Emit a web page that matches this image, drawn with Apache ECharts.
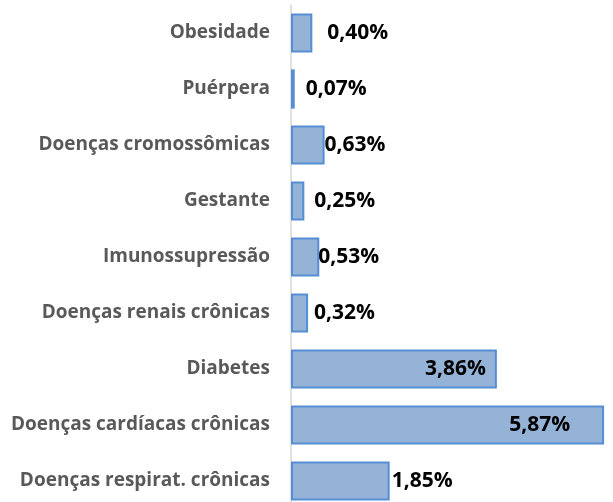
<!DOCTYPE html>
<html>
<head>
<meta charset="utf-8">
<script src="https://cdn.jsdelivr.net/npm/echarts@6/dist/echarts.min.js"></script>
<style>
    html, body { margin: 0; padding: 0; background: #fff; }
    #chart { width: 613px; height: 502px; }
</style>
</head>
<body>
<div id="chart"></div>
<script>
// categorias (de baixo para cima, como no eixo)
const categorias = [
    "Doenças respirat. crônicas",
    "Doenças cardíacas crônicas",
    "Diabetes",
    "Doenças renais crônicas",
    "Imunossupressão",
    "Gestante",
    "Doenças cromossômicas",
    "Puérpera",
    "Obesidade",
];
// percentuais
const valores = [1.85, 5.87, 3.86, 0.32, 0.53, 0.25, 0.63, 0.07, 0.40];

// posição dos rótulos (como no gráfico original)
const rotuloPos = ["right", "insideRight", "insideRight", "right", "right", "right", "right", "right", "right"];
const rotuloDist = [2, 34, 11, 6, -1, 10, 0, 11, 15];

const chart = echarts.init(document.getElementById("chart"));

const option = {
    animation: false,
    grid: {
        left: 291,
        right: 2,
        top: 5,
        height: 504,
        outerBoundsMode: "none",
    },
    xAxis: {
        type: "value",
        min: 0,
        max: 6,
        show: false,
    },
    yAxis: {
        type: "category",
        data: categorias,
        axisLine: { lineStyle: { color: "#D9D9D9", width: 1.5 } },
        axisTick: { show: false },
        axisLabel: {
            margin: 21,
            color: "#595959",
            fontFamily: "Open Sans",
            fontWeight: "bold",
            fontSize: 19,
        },
    },
    series: [
        {
            type: "bar",
            barCategoryGap: "30%",
            data: valores.map((v, i) => ({
                value: v,
                label: { position: rotuloPos[i], distance: rotuloDist[i] },
            })),
            itemStyle: {
                color: "#95B3D7",
                borderColor: "#558ED5",
                borderWidth: 2,
            },
            label: {
                show: true,
                color: "#000",
                fontFamily: "Open Sans",
                fontWeight: "bold",
                fontSize: 21,
                formatter: p => p.value.toFixed(2).replace(".", ",") + "%",
            },
        },
    ],
};
chart.setOption(option);
</script>
</body>
</html>
